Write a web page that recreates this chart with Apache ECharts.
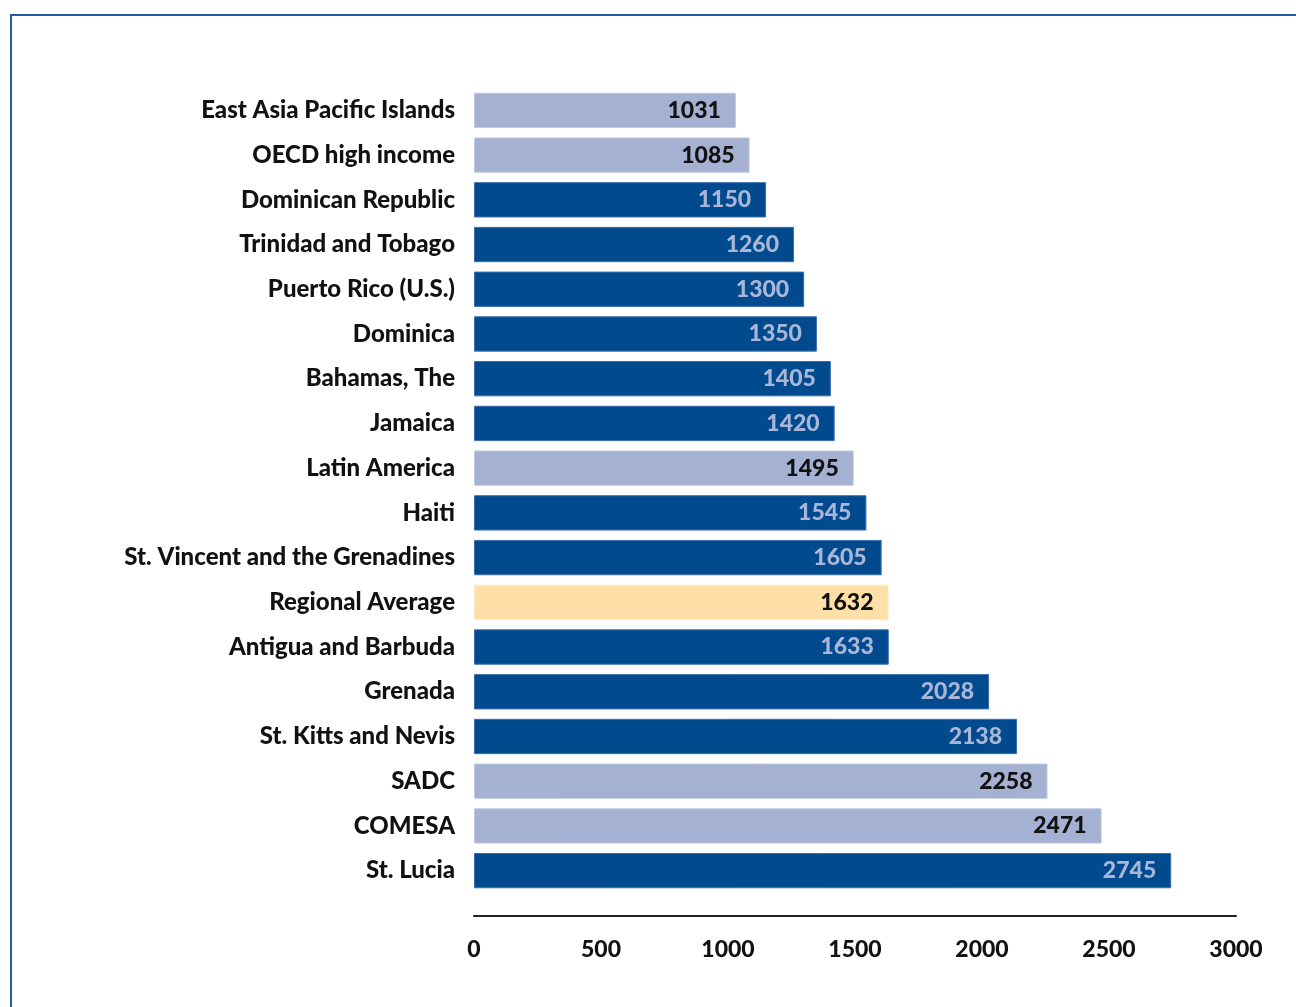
<!DOCTYPE html>
<html>
<head>
<meta charset="utf-8">
<script src="https://cdn.jsdelivr.net/npm/echarts@6/dist/echarts.min.js"></script>
<style>
html,body{margin:0;padding:0;background:#fff;overflow:hidden;}
#frame{position:absolute;left:10px;top:14px;width:1400px;height:1100px;border-left:2px solid #1f5ea6;border-top:2px solid #1f5ea6;}
#chart{position:absolute;left:0;top:0;width:1296px;height:1007px;}
</style>
</head>
<body>
<div id="frame"></div>
<div id="chart"></div>
<script>
const categories = ["East Asia Pacific Islands","OECD high income","Dominican Republic","Trinidad and Tobago","Puerto Rico (U.S.)","Dominica","Bahamas, The","Jamaica","Latin America","Haiti","St. Vincent and the Grenadines","Regional Average","Antigua and Barbuda","Grenada","St. Kitts and Nevis","SADC","COMESA","St. Lucia"];
const values = [1031,1085,1150,1260,1300,1350,1405,1420,1495,1545,1605,1632,1633,2028,2138,2258,2471,2745];
// group: 'c' = country, 'r' = region/benchmark, 'a' = regional average
const groups = ["r","r","c","c","c","c","c","c","r","c","c","a","c","c","c","r","r","c"];
const xTicks = [0,500,1000,1500,2000,2500,3000];

const styles = {
  c: {fill:"#004a8d", border:"#3a6fb0", label:"#a9b6d8"},
  r: {fill:"#a5b1d3", border:"#c2cbe3", label:"#111111"},
  a: {fill:"#ffdfa8", border:"#ffe9c4", label:"#111111"}
};
const FONT = "Lato";
const data = values.map((v,i)=>({
  value:v,
  itemStyle:{color:styles[groups[i]].fill,borderColor:styles[groups[i]].border,borderWidth:1},
  label:{color:styles[groups[i]].label}
}));

const chart = echarts.init(document.getElementById('chart'));
chart.setOption({
  animation:false,
  grid:{left:474,right:60,top:88,bottom:114,containLabel:false},
  xAxis:{type:'value',min:0,max:3000,interval:500,offset:23,
    axisLine:{show:true,lineStyle:{color:'#222',width:2}},
    axisTick:{show:false},splitLine:{show:false},
    axisLabel:{fontFamily:FONT,fontWeight:900,fontSize:23,color:'#111',margin:22,
      formatter:v=>xTicks.includes(v)?String(v):''}
  },
  yAxis:{type:'category',data:categories,inverse:true,
    axisLine:{show:false},axisTick:{show:false},
    axisLabel:{fontFamily:FONT,fontWeight:900,fontSize:24,color:'#111',margin:19}
  },
  series:[{type:'bar',data:data,barCategoryGap:'21%',
    label:{show:true,position:'insideRight',distance:15,fontFamily:FONT,fontWeight:900,fontSize:23}
  }]
});
</script>
</body>
</html>
